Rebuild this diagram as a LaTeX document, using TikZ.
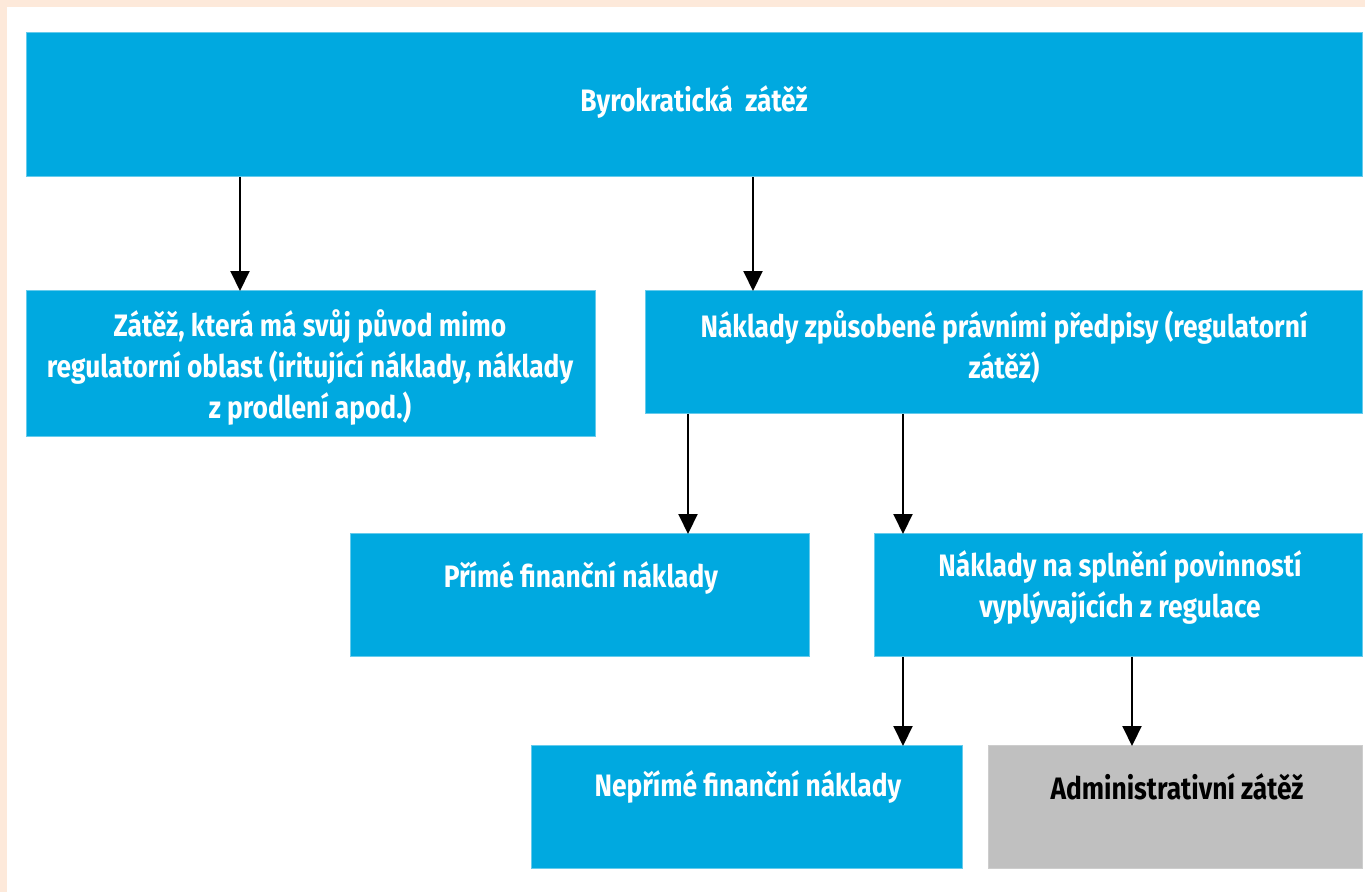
\documentclass[tikz,border=0pt]{standalone}
\usepackage{fontspec}
\setmainfont{Fira Sans}[FakeStretch=0.85]
\usetikzlibrary{arrows.meta}
\definecolor{peach}{HTML}{FDE9DA}
\definecolor{boxblue}{HTML}{00A9E0}
\definecolor{boxgray}{HTML}{C0C0C0}
\tikzset{
  box/.style={fill=boxblue, draw=boxblue!60, line width=0.8pt, inner sep=0pt, anchor=north west},
  graybox/.style={box, fill=boxgray, draw=boxgray!80},
  txt/.style={text=white, font=\fontsize{31}{41}\selectfont\bfseries, align=center, inner sep=0pt},
  dtxt/.style={txt, text=black},
  arr/.style={line width=2pt, -{Triangle[width=19pt,length=20pt]}, shorten >=-1pt}
}
\begin{document}
\begin{tikzpicture}[x=1pt,y=-1pt]
\path[use as bounding box] (0,0) rectangle (1365,892);
\fill[peach] (0,0) rectangle (1365,892);
\fill[white] (7,7) rectangle (1365,892);
% boxes
\node[box, minimum width=1336pt, minimum height=144pt] (top) at (26,32) {};
\node[box, minimum width=569pt, minimum height=146pt] (outside) at (26,290) {};
\node[box, minimum width=717pt, minimum height=123pt] (legal) at (645,290) {};
\node[box, minimum width=459pt, minimum height=123pt] (direct) at (350,533) {};
\node[box, minimum width=488pt, minimum height=123pt] (comply) at (874,533) {};
\node[box, minimum width=431pt, minimum height=123pt] (indirect) at (531,745) {};
\node[graybox, minimum width=374pt, minimum height=123pt] (admin) at (988,745) {};
% texts
\node[txt] (ttop) at (694,102) {Byrokratická~ zátěž};
\node[txt] (toutside) at (310,367) {Zátěž, která má svůj původ mimo\\regulatorní oblast (iritující náklady, náklady\\z prodlení apod.)};
\node[txt] (tlegal) at (1004,347) {Náklady způsobené právními předpisy (regulatorní\\zátěž)};
\node[txt] (tdirect) at (581,578) {Přímé finanční náklady};
\node[txt] (tcomply) at (1120,587) {Náklady na splnění povinností\\vyplývajících z regulace};
\node[txt] (tindirect) at (748,787) {Nepřímé finanční náklady};
\node[dtxt] (tadmin) at (1177,787) {Administrativní zátěž};
% arrows
\draw[arr] (top.south -| 240,0) -- (outside.north -| 240,0);
\draw[arr] (top.south -| 753,0) -- (legal.north -| 753,0);
\draw[arr] (legal.south -| 688,0) -- (direct.north -| 688,0);
\draw[arr] (legal.south -| 903,0) -- (comply.north -| 903,0);
\draw[arr] (comply.south -| 903,0) -- (indirect.north -| 903,0);
\draw[arr] (comply.south -| 1132,0) -- (admin.north -| 1132,0);
\end{tikzpicture}
\end{document}
